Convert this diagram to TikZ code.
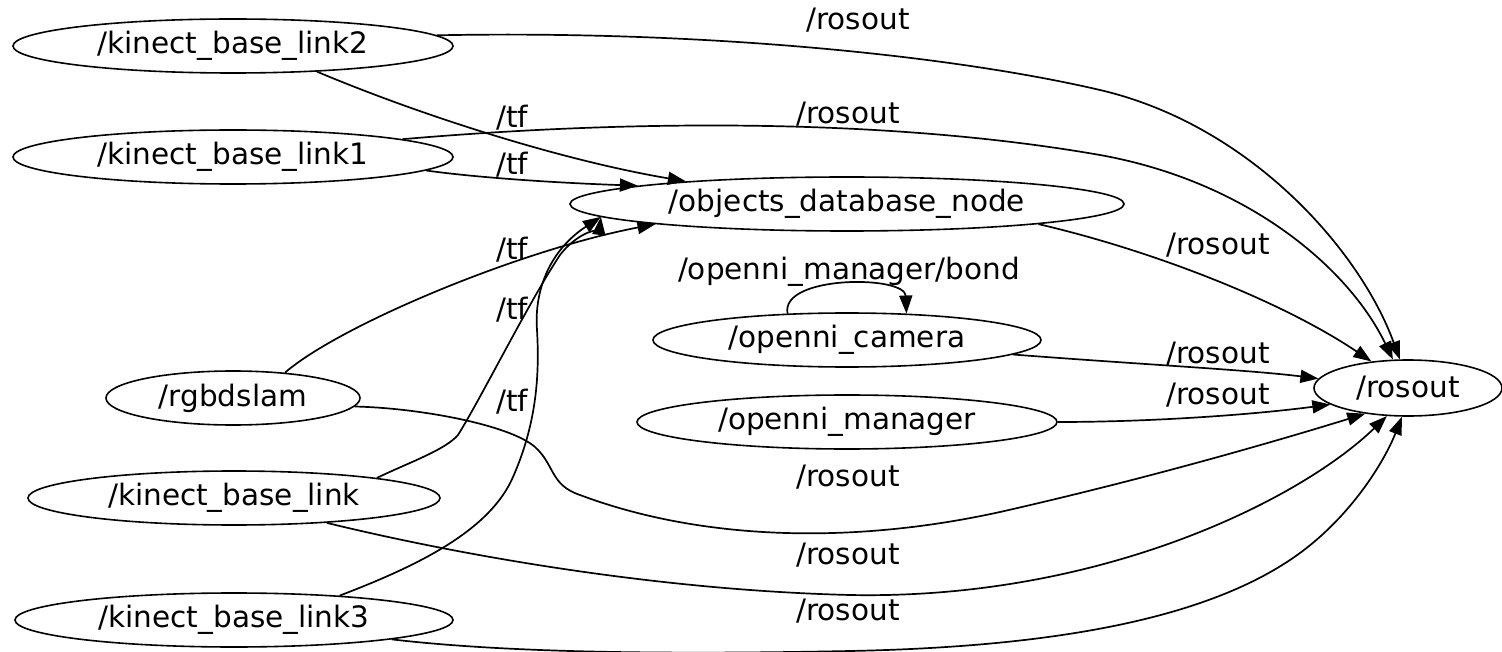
\documentclass[tikz,border=0pt]{standalone}
\usepackage{fontspec}
\setmainfont{DejaVu Sans}
\usetikzlibrary{shapes.geometric,arrows.meta}
\tikzset{
  nd/.style={draw, ellipse, line width=1.6pt, inner sep=0pt, minimum height=54pt, font=\fontsize{29.5}{35}\selectfont},
  lbl/.style={inner sep=0pt, font=\fontsize{29.5}{35}\selectfont},
  edge/.style={line width=1.7pt, -{Triangle[length=18pt,width=13pt]}}
}
\begin{document}
\begin{tikzpicture}[x=1pt,y=-1pt]
\useasboundingbox[fill=white] (0,0) rectangle (1502,652);
% nodes
\node[nd, minimum width=440pt] (kbl2) at (233,46) {/kinect\_base\_link2};
\node[nd, minimum width=440pt] (kbl1) at (233,157) {/kinect\_base\_link1};
\node[nd, minimum width=554pt] (odn) at (847,204) {/objects\_database\_node};
\node[nd, minimum width=388pt] (cam) at (847,340) {/openni\_camera};
\node[nd, minimum width=420pt] (mgr) at (847,422) {/openni\_manager};
\node[nd, minimum width=254pt] (rgb) at (233,398) {/rgbdslam};
\node[nd, minimum width=412pt] (kbl) at (234,498) {/kinect\_base\_link};
\node[nd, minimum width=438pt] (kbl3) at (234,620) {/kinect\_base\_link3};
\node[nd, minimum width=188pt, minimum height=56pt] (ros) at (1408,388) {/rosout};
% labels
\node[lbl] (l1) at (858,20) {/rosout};
\node[lbl] (l2) at (848,114) {/rosout};
\node[lbl] (l3) at (512,118) {/tf};
\node[lbl] (l4) at (512,165) {/tf};
\node[lbl] (l5) at (1218,245) {/rosout};
\node[lbl] (l6) at (849,272) {/openni\_manager/bond};
\node[lbl] (l7) at (512,250) {/tf};
\node[lbl] (l8) at (512,310) {/tf};
\node[lbl] (l9) at (512,402) {/tf};
\node[lbl] (l10) at (1218,354) {/rosout};
\node[lbl] (l11) at (1218,395) {/rosout};
\node[lbl] (l12) at (848,477) {/rosout};
\node[lbl] (l13) at (848,555) {/rosout};
\node[lbl] (l14) at (848,611) {/rosout};
% edges
\draw[edge] (kbl2.3) .. controls (700,30) and (950,55) .. (1100,90)
  .. controls (1250,125) and (1360,250) .. (ros.106);
\draw[edge] (kbl1.6.5) .. controls (650,118) and (900,120) .. (1100,155)
  .. controls (1250,182) and (1350,270) .. (ros.118);
\draw[edge] (kbl2.343.4) .. controls (420,115) and (560,160) .. (odn.172);
\draw[edge] (kbl1.356.5) .. controls (480,178) and (560,183) .. (odn.175.7);
\draw[edge] (odn.354) .. controls (1150,250) and (1280,300) .. (ros.144.3);
\draw[edge] (cam.156.5) .. controls (780,275) and (905,275) .. (cam.24);
\draw[edge] (cam.355.6) .. controls (1150,365) and (1250,370) .. (ros.174.5);
\draw[edge] (mgr.0) .. controls (1150,422) and (1250,415) .. (ros.192.7);
\draw[edge] (rgb.26.4) .. controls (340,325) and (520,250) .. (odn.186.5);
\draw[edge] (rgb.356) .. controls (420,408) and (510,425) .. (535,447)
  .. controls (555,465) and (550,485) .. (580,495)
  .. controls (700,540) and (850,545) .. (1000,512)
  .. controls (1150,478) and (1280,440) .. (ros.211.6);
\draw[edge] (kbl.8.7) .. controls (410,462) and (445,450) .. (458,435)
  .. controls (480,400) and (530,300) .. (560,255)
  .. controls (575,235) and (600,225) .. (odn.183.9);
\draw[edge] (kbl3.13) .. controls (420,565) and (490,530) .. (513,477)
  .. controls (535,427) and (540,380) .. (537,330)
  .. controls (534,290) and (550,250) .. (odn.183.6);
\draw[edge] (kbl.345.7) .. controls (450,553) and (650,590) .. (850,595)
  .. controls (1100,600) and (1300,500) .. (ros.233.9);
\draw[edge] (kbl3.353.3) .. controls (500,652) and (650,655) .. (850,651)
  .. controls (1050,647) and (1200,620) .. (1290,560)
  .. controls (1350,520) and (1385,460) .. (ros.258);
\end{tikzpicture}
\end{document}
